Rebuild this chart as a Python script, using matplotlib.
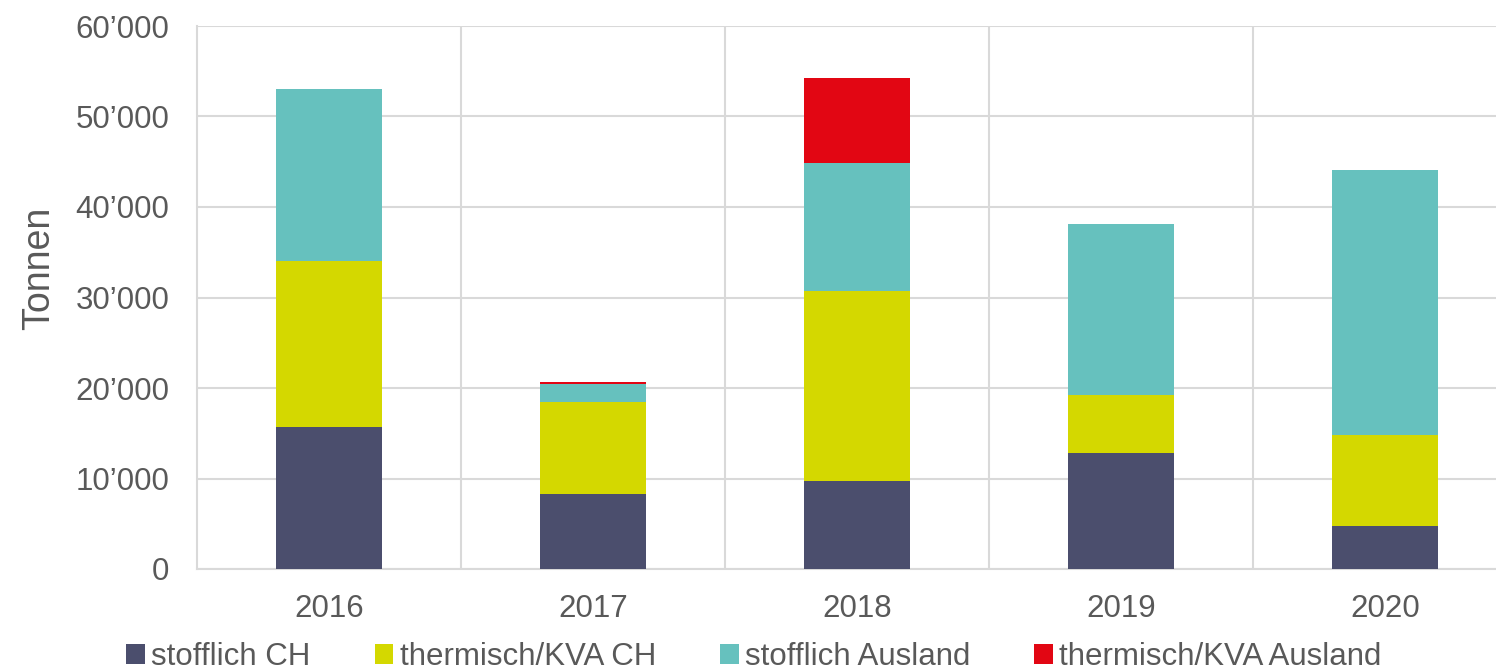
import matplotlib
matplotlib.use("Agg")
import matplotlib.pyplot as plt
from matplotlib.ticker import FuncFormatter, FixedLocator
import numpy as np

years = ["2016", "2017", "2018", "2019", "2020"]
stofflich_ch = [15.7, 8.3, 9.7, 12.8, 4.75]
thermisch_ch = [18.3, 10.15, 21.0, 6.4, 10.05]
stofflich_ausland = [19.0, 2.0, 14.2, 18.9, 29.3]
thermisch_ausland = [0.0, 0.22, 9.3, 0.0, 0.0]
series_labels = ["stofflich CH", "thermisch/KVA CH", "stofflich Ausland", "thermisch/KVA Ausland"]
colors = ["#4b4e6d", "#d4d800", "#66c1be", "#e20613"]

plt.rcParams['font.family'] = ['Liberation Sans', 'DejaVu Sans']
txt = "#595959"
grid = "#d9d9d9"

fig = plt.figure(figsize=(14.96, 6.71), dpi=100)
ax = fig.add_axes([197/1496, 1-569/671, 1-197/1496, (569-26)/671])

x = np.arange(len(years))
series = [stofflich_ch, thermisch_ch, stofflich_ausland, thermisch_ausland]
bottom = np.zeros(len(years))
handles = []
for vals, lab, c in zip(series, series_labels, colors):
    v = np.array(vals) * 1000
    h = ax.bar(x, v, width=0.4, bottom=bottom, color=c, label=lab, zorder=3)
    handles.append(h)
    bottom += v

ax.set_ylim(0, 60000)
ax.set_xlim(-0.5, -0.5 + (1496-197)/264)
ax.yaxis.set_major_locator(FixedLocator(np.arange(0, 60001, 10000)))
ax.yaxis.set_major_formatter(FuncFormatter(lambda v, p: "0" if v == 0 else f"{int(v/1000)}\u2019000"))
ax.set_xticks(x)
ax.set_xticklabels(years)
ax.tick_params(axis='both', length=0, labelsize=22.5, colors=txt)
ax.tick_params(axis='y', pad=20)
ax.tick_params(axis='x', pad=18)
ax.grid(axis='y', color=grid, linewidth=1.5, zorder=0)
for b in [0.5, 1.5, 2.5, 3.5]:
    ax.axvline(b, color=grid, linewidth=1.5, zorder=0)
for s in ['top', 'right']:
    ax.spines[s].set_visible(False)
ax.spines['left'].set_color(grid)
ax.spines['left'].set_linewidth(1.5)
ax.spines['bottom'].set_color(grid)
ax.spines['bottom'].set_linewidth(1.5)
ax.set_ylabel("Tonnen", fontsize=27, color=txt, labelpad=13, y=0.554)

fig.legend(handles=handles, labels=series_labels, loc='center', bbox_to_anchor=(0.504, 1 - 657/671),
           ncol=4, frameon=False, fontsize=22.5, labelcolor=txt,
           handlelength=0.6, handleheight=0.6, handletextpad=0.2, columnspacing=2.05)

fig.savefig("out.png", dpi=100)
